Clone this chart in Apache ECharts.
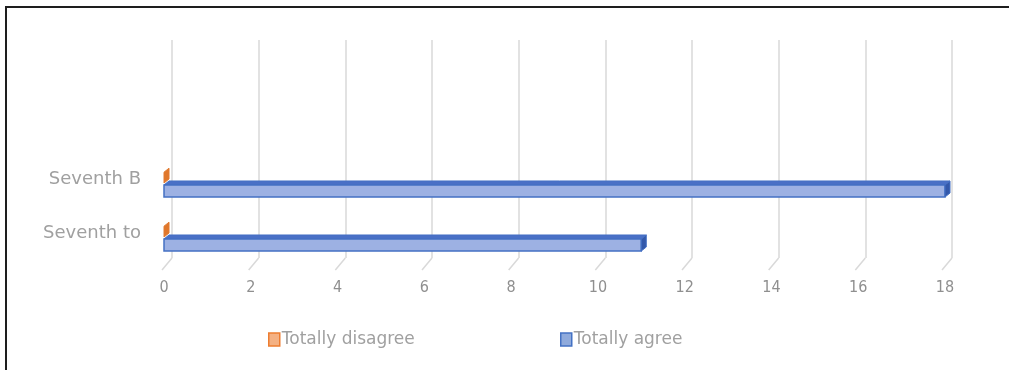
<!DOCTYPE html>
<html>
<head>
<meta charset="utf-8">
<script src="https://cdn.jsdelivr.net/npm/echarts@6/dist/echarts.min.js"></script>
<style>
  html, body { margin: 0; padding: 0; background: #fff; }
  #frame { position: absolute; left: 5px; top: 6px; width: 1004px; height: 364px;
           border-top: 2px solid #1e1e1e; border-left: 2px solid #1e1e1e; box-sizing: border-box; }
  #chart { position: absolute; left: 0; top: 0; width: 1009px; height: 370px; }
</style>
</head>
<body>
<div id="frame"></div>
<div id="chart"></div>
<script>
// Survey answers per class group
const categories = ['Seventh to', 'Seventh B'];
const totallyDisagree = [0, 0];
const totallyAgree = [11, 18];
const xTicks = [0, 2, 4, 6, 8, 10, 12, 14, 16, 18];

const chart = echarts.init(document.getElementById('chart'), null, { renderer: 'canvas' });

// Depth of the extruded bar caps (pixels)
const DX = 5, DY = -4;

function bar3d(top, bottom, colors) {
  return function (params, api) {
    const val = api.value(0);
    const cat = api.value(1);
    const p0 = api.coord([0, cat]);
    const p1 = api.coord([val, cat]);
    const band = api.size([0, 1])[1];
    const yT = p0[1] + top * band;
    const yB = p0[1] + bottom * band;
    const x0 = p0[0], x1 = p1[0];
    const children = [];
    if (x1 - x0 > 0.5) {
      children.push({
        type: 'polygon',
        shape: { points: [[x0, yT], [x1, yT], [x1 + DX, yT + DY], [x0 + DX, yT + DY]] },
        style: { fill: colors.top, stroke: colors.edge, lineWidth: 1 }
      });
      children.push({
        type: 'rect',
        shape: { x: x0, y: yT, width: x1 - x0, height: yB - yT },
        style: { fill: colors.front, stroke: colors.edge, lineWidth: 1.5 }
      });
    }
    children.push({
      type: 'polygon',
      shape: { points: [[x1, yT], [x1 + DX, yT + DY], [x1 + DX, yB + DY], [x1, yB]] },
      style: { fill: colors.side, stroke: colors.edge, lineWidth: 1 }
    });
    return { type: 'group', children: children };
  };
}

const orange = { front: '#f4b183', top: '#e88a45', side: '#e0772b', edge: '#e07a30' };
const blue = { front: '#9db1e3', top: '#4a70c6', side: '#3358aa', edge: '#4470c4' };

const labelColor = '#a0a0a0';

chart.setOption({
  animation: false,
  backgroundColor: 'transparent',
  grid: [
    { left: 164, right: 64, top: 156, bottom: 106 },
    { left: 172, right: 57, top: 40, bottom: 112 }
  ],
  xAxis: [
    {
      gridIndex: 0, type: 'value', min: 0, max: 18, interval: 2,
      axisLine: { show: false }, axisTick: { show: false }, splitLine: { show: false },
      axisLabel: {
        margin: 16, color: '#8f8f8f', fontSize: 16,
        fontFamily: '"Liberation Sans Narrow", "DejaVu Sans Condensed", "Liberation Sans", sans-serif'
      }
    },
    {
      gridIndex: 1, type: 'value', min: 0, max: 18, interval: 2,
      axisLine: { show: false }, axisTick: { show: false }, axisLabel: { show: false },
      splitLine: { show: true, lineStyle: { color: '#d9d9d9', width: 1.5 } }
    }
  ],
  yAxis: [
    {
      gridIndex: 0, type: 'category', data: categories,
      axisLine: { show: false }, axisTick: { show: false },
      axisLabel: {
        margin: 23, color: labelColor, fontSize: 18,
        verticalAlign: 'bottom', lineHeight: 8,
        fontFamily: '"DejaVu Sans", sans-serif'
      }
    },
    { gridIndex: 1, type: 'value', min: 0, max: 1, show: false }
  ],
  legend: [
    {
      left: 263, top: 326, itemWidth: 11, itemHeight: 13, itemGap: 5,
      icon: 'rect',
      textStyle: { color: labelColor, fontSize: 17, fontFamily: '"DejaVu Sans", sans-serif', padding: [0, 0, 0, -3] },
      data: [{ name: 'Totally disagree', itemStyle: { color: '#f4b183', borderColor: '#ed7d31', borderWidth: 1.5 } }]
    },
    {
      left: 555, top: 326, itemWidth: 11, itemHeight: 13, itemGap: 5,
      icon: 'rect',
      textStyle: { color: labelColor, fontSize: 17, fontFamily: '"DejaVu Sans", sans-serif', padding: [0, 0, 0, -3] },
      data: [{ name: 'Totally agree', itemStyle: { color: '#8faadc', borderColor: '#4472c4', borderWidth: 1.5 } }]
    }
  ],
  series: [
    {
      // floor edge of the back wall
      type: 'custom', xAxisIndex: 1, yAxisIndex: 1, silent: true,
      data: xTicks.map(v => [v, 0]),
      renderItem: function (params, api) {
        const p = api.coord([api.value(0), api.value(1)]);
        return {
          type: 'line',
          shape: { x1: p[0], y1: p[1], x2: p[0] - 10, y2: p[1] + 12 },
          style: { stroke: '#d9d9d9', lineWidth: 1.5 }
        };
      }
    },
    {
      name: 'Totally disagree', type: 'custom', xAxisIndex: 0, yAxisIndex: 0,
      itemStyle: { color: '#f4b183' },
      encode: { x: 0, y: 1 },
      data: totallyDisagree.map((v, i) => [v, i]),
      renderItem: bar3d(-0.2, 0.0, orange)
    },
    {
      name: 'Totally agree', type: 'custom', xAxisIndex: 0, yAxisIndex: 0,
      itemStyle: { color: '#8faadc' },
      encode: { x: 0, y: 1 },
      data: totallyAgree.map((v, i) => [v, i]),
      renderItem: bar3d(0.037, 0.26, blue)
    }
  ]
});
</script>
</body>
</html>
